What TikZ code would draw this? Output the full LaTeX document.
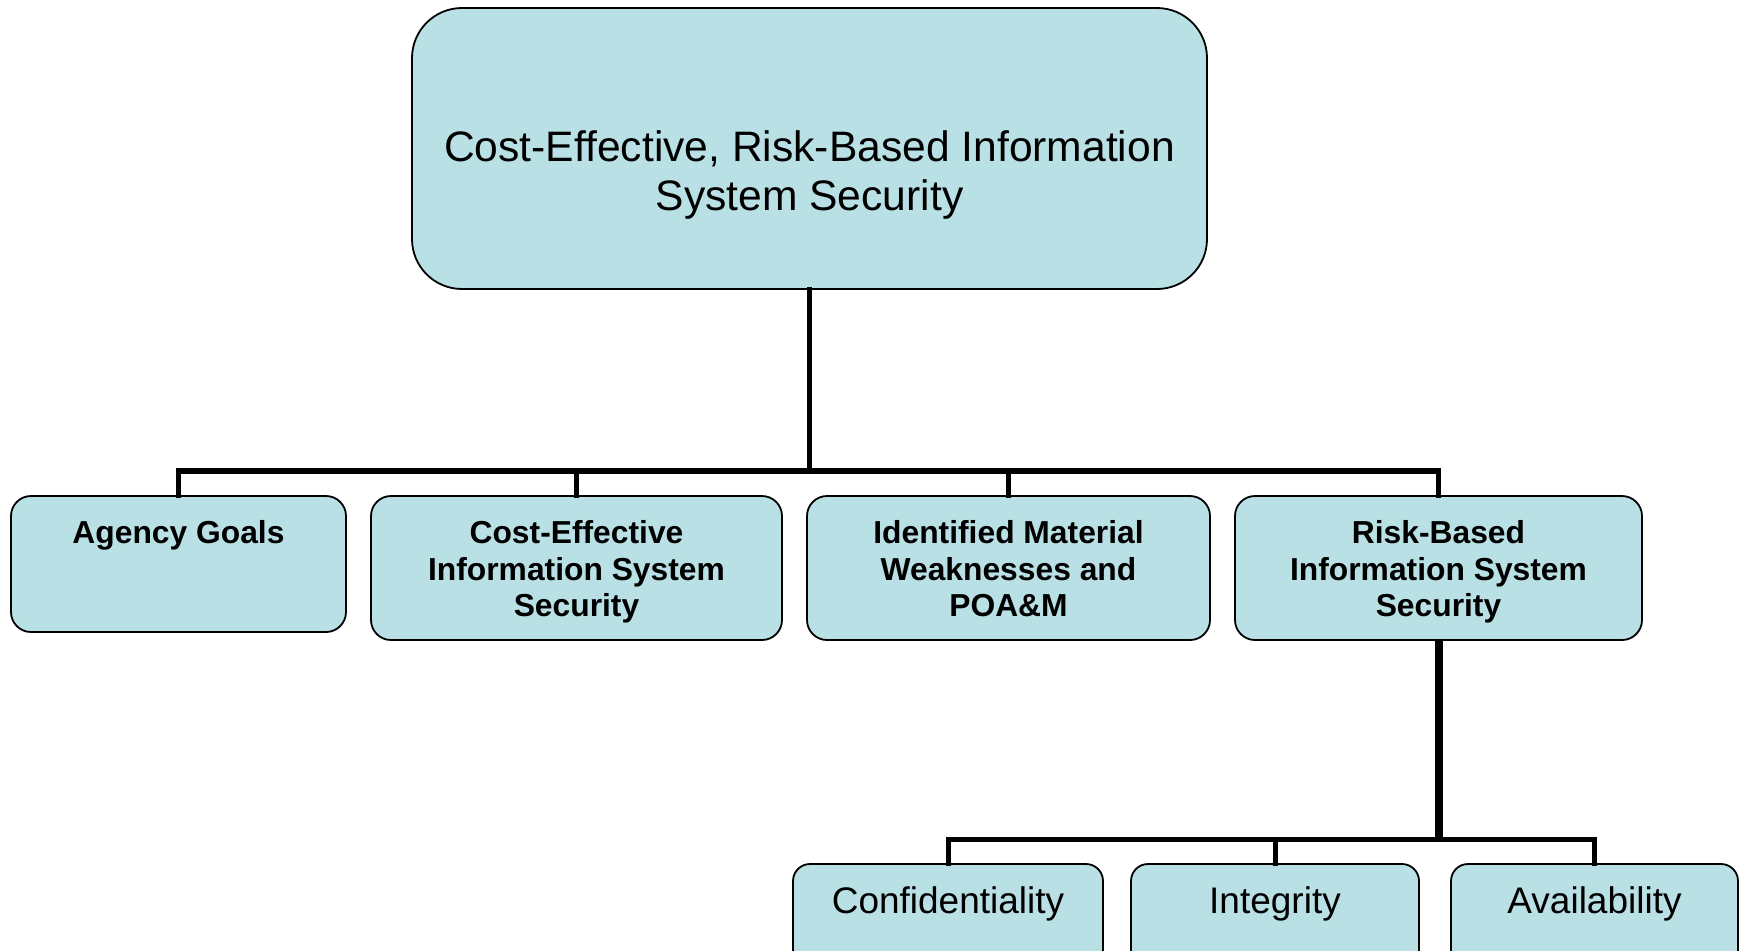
\documentclass[tikz,border=0pt]{standalone}
\usepackage{fontspec}
\setmainfont{Liberation Sans}
\definecolor{boxfill}{RGB}{185,224,228}
\begin{document}
\begin{tikzpicture}[x=0.5pt,y=-0.5pt,
  box/.style={draw=black, fill=boxfill, line width=0.9pt, inner sep=0pt},
  topbox/.style={box, rounded corners=25pt},
  midbox/.style={box, rounded corners=10pt, minimum height=72pt},
  lowbox/.style={box, rounded corners=8.5pt, minimum height=73pt},
  toptext/.style={anchor=north, align=center, inner sep=0pt, font=\fontsize{21.3}{24.6}\selectfont},
  midtext/.style={anchor=north, align=center, inner sep=0pt, font=\fontsize{15.9}{18.3}\selectfont\bfseries},
  lowtext/.style={anchor=base, inner sep=0pt, font=\fontsize{18.5}{22}\selectfont},
  bus/.style={line width=2.75pt, line join=miter, line cap=rect},
  bus2/.style={line width=2.5pt, line join=miter, line cap=rect},
  trunk/.style={line width=4pt}]
\clip (0,0) rectangle (1741,950);
% top box
\node[topbox, minimum width=397.5pt, minimum height=140.5pt] (top) at (809.5,148.5) {};
\node[toptext] (ttop) at (809.5,130) {Cost-Effective, Risk-Based Information\\System Security};
% middle row
\node[midbox, minimum width=167.5pt, minimum height=68pt] (agency) at (178.5,564) {};
\node[midbox, minimum width=205.5pt] (cost) at (576.5,568) {};
\node[midbox, minimum width=201.5pt] (ident) at (1008.5,568) {};
\node[midbox, minimum width=203.5pt] (risk) at (1438.5,568) {};
\node[midtext] (tagency) at (178.5,520) {Agency Goals};
\node[midtext] (tcost) at (576.5,520) {Cost-Effective\\Information System\\Security};
\node[midtext] (tident) at (1008.5,520) {Identified Material\\Weaknesses and\\POA\&M};
\node[midtext] (trisk) at (1438.5,520) {Risk-Based\\Information System\\Security};
% bottom row
\node[lowbox, minimum width=155pt] (conf) at (948,937) {};
\node[lowbox, minimum width=144pt] (integ) at (1275,937) {};
\node[lowbox, minimum width=143.5pt] (avail) at (1594.5,937) {};
\node[lowtext] (tconf) at (948,913) {Confidentiality};
\node[lowtext] (tinteg) at (1275,913) {Integrity};
\node[lowtext] (tavail) at (1594.5,913) {Availability};
% connectors
\coordinate (busA) at (809.5,471);
\coordinate (busB) at (1438.5,839);
\draw[bus] (top.south) -- (busA);
\draw[bus] (agency.north) |- (busA);
\draw[bus] (cost.north) |- (busA);
\draw[bus] (ident.north) |- (busA);
\draw[bus] (risk.north) |- (busA);
\draw[trunk] (risk.south) -- (busB);
\draw[bus2] (conf.north) |- (busB);
\draw[bus2] (integ.north) |- (busB);
\draw[bus2] (avail.north) |- (busB);
\end{tikzpicture}
\end{document}
